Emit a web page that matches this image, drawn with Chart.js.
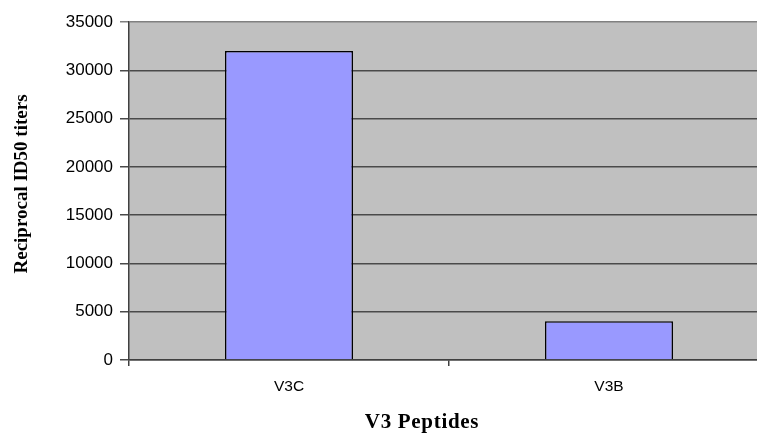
<!DOCTYPE html>
<html>
<head>
<meta charset="utf-8">
<script src="https://cdn.jsdelivr.net/npm/chart.js@4"></script>
<style>
  html, body { margin: 0; padding: 0; background: #fff; overflow: hidden; }
  #wrap { position: relative; width: 790px; height: 434px; }
</style>
</head>
<body>
<div id="wrap"><canvas id="chart"></canvas></div>
<script>
// datos
const categories = ['V3C', 'V3B'];
const titers = [32000, 4000];
const yTicks = [0, 5000, 10000, 15000, 20000, 25000, 30000, 35000];
const xTitleText = 'V3 Peptides';
const yTitleText = 'Reciprocal ID50 titers';

// fondo gris del area de trazado
const plotBackground = {
    id: 'plotBackground',
    beforeDraw(chart) {
        const { ctx, chartArea: a } = chart;
        ctx.save();
        ctx.fillStyle = '#c0c0c0';
        ctx.fillRect(a.left, a.top, a.right - a.left, a.bottom - a.top);
        ctx.restore();
    }
};

// titulos de los ejes, colocados como en el original
const axisTitles = {
    id: 'axisTitles',
    afterDraw(chart) {
        const { ctx, chartArea: a } = chart;
        ctx.save();
        ctx.fillStyle = '#000';
        ctx.textAlign = 'center';
        ctx.textBaseline = 'middle';

        ctx.font = 'bold 21px "Liberation Serif", "Times New Roman", serif';
        ctx.letterSpacing = '0.7px';
        ctx.fillText(xTitleText, (a.left + a.right) / 2 - 27, 423);

        ctx.letterSpacing = '0px';
        ctx.font = 'bold 19px "Liberation Serif", "Times New Roman", serif';
        ctx.translate(22, 184);
        ctx.rotate(-Math.PI / 2);
        ctx.fillText(yTitleText, 0, 0);
        ctx.restore();
    }
};

const canvas = document.getElementById('chart');
new Chart(canvas.getContext('2d'), {
    type: 'bar',
    data: {
        labels: categories,
        datasets: [{
            label: yTitleText,
            data: titers,
            backgroundColor: '#9999ff',
            borderColor: '#000000',
            borderWidth: 1.5,
            barPercentage: 0.4,
            categoryPercentage: 1.0
        }]
    },
    options: {
        responsive: true,
        maintainAspectRatio: false,
        animation: false,
        layout: { padding: { left: 0, right: 21, top: 22, bottom: 0 } },
        plugins: {
            legend: { display: false },
            tooltip: { enabled: false }
        },
        scales: {
            x: {
                offset: true,
                grid: {
                    offset: true,
                    drawOnChartArea: false,
                    drawTicks: true,
                    tickLength: 6,
                    color: '#404040',
                    lineWidth: 1.5
                },
                border: { color: '#404040', width: 1.5 },
                ticks: {
                    color: '#000',
                    padding: 11,
                    font: { family: '"Liberation Sans", Arial, sans-serif', size: 15.5 }
                },
                afterFit(scale) { scale.height = 74; }
            },
            y: {
                min: 0,
                max: 35000,
                afterBuildTicks(scale) {
                    scale.ticks = yTicks.map(v => ({ value: v }));
                },
                grid: {
                    drawTicks: true,
                    tickLength: 9,
                    color: ctx => ctx.tick && ctx.tick.value === 35000 ? '#808080' : '#4a4a4a',
                    lineWidth: 1.5
                },
                border: { color: '#404040', width: 1.5 },
                ticks: {
                    color: '#000',
                    padding: 7,
                    font: { family: '"Liberation Sans", Arial, sans-serif', size: 17 },
                    callback: value => String(value)
                },
                afterFit(scale) { scale.width = 129; }
            }
        }
    },
    plugins: [plotBackground, axisTitles]
});
</script>
</body>
</html>
